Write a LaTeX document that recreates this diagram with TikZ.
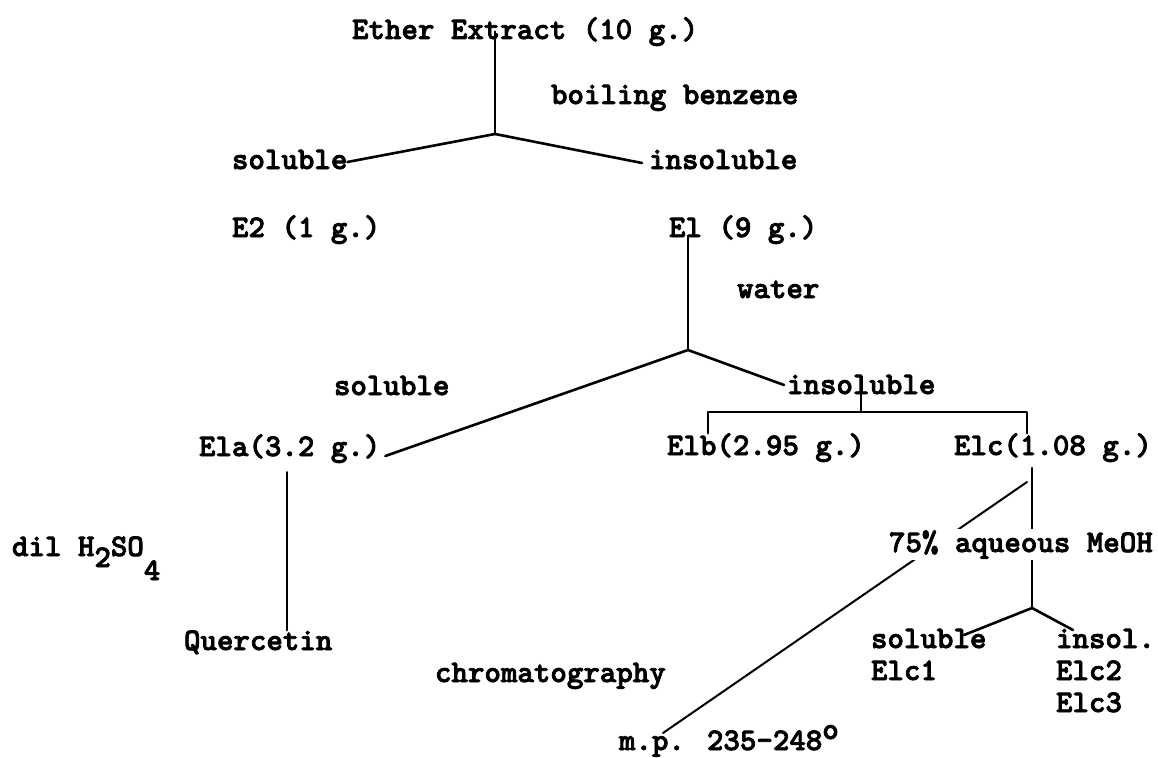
\documentclass[tikz,border=0pt]{standalone}
\usepackage{fontspec}
\newfontfamily\typew{lmmonolt10-bold.otf}[FakeBold=2.5]
\begin{document}
\begin{tikzpicture}[x=1pt,y=-1pt,
  txt/.style={anchor=base west, inner sep=0pt, outer sep=0pt, font=\typew\fontsize{31.4}{36}\selectfont},
  ln/.style={line width=2.6pt, line cap=round, line join=round},
  thinln/.style={line width=2pt, line cap=round}]
\path[use as bounding box] (0,0) rectangle (1158,757);
% texts
\node[txt] (ether) at (352,39) {Ether Extract (10 g.)};
\node[txt] (boil) at (551,104) {boiling benzene};
\node[txt] (sol1) at (232,169) {soluble};
\node[txt] (ins1) at (649,169) {insoluble};
\node[txt] (e2) at (232,237) {E2 (1 g.)};
\node[txt] (e1) at (669,237) {El (9 g.)};
\node[txt] (water) at (737,298) {water};
\node[txt] (sol2) at (334,395) {soluble};
\node[txt] (ins2) at (787,394) {insoluble};
\node[txt] (e1a) at (199,456) {Ela(3.2 g.)};
\node[txt] (e1b) at (667,455) {Elb(2.95 g.)};
\node[txt] (e1c) at (954,455) {Elc(1.08 g.)};
\node[txt] (dil) at (12,556) {dil H\raisebox{-11pt}{2}SO\raisebox{-24pt}{4}};
\node[txt] (quer) at (184,650) {Quercetin};
\node[txt] (sol3) at (871,648) {soluble};
\node[txt] (e1c1) at (871,680) {Elc1};
\node[txt] (ins3) at (1056,648) {insol.};
\node[txt] (e1c2) at (1056,680) {Elc2};
\node[txt] (e1c3) at (1056,712) {Elc3};
\node[txt] (chrom) at (435,682) {chromatography};
\node[txt] (mp) at (619,750) {m.p. 235-248\raisebox{11pt}{o}};
% branch points
\coordinate (b1) at (495,134);
\coordinate (b2) at (688,350);
\coordinate (bl) at (708,412);
\coordinate (br) at (1027,412);
\coordinate (b3) at (1032,608);
\coordinate (qx) at (287,0);
\coordinate (dt) at (1027,482);
% connectors
\draw[ln] (ether.center -| b1) -- (b1);
\draw[ln] (b1) -- ([yshift=7pt]sol1.base east);
\draw[ln] (b1) -- ([xshift=-7pt,yshift=6pt]ins1.base west);
\draw[ln] (e1.base -| b2) -- (b2);
\draw[ln] (b2) -- ([xshift=5pt]e1a.base east);
\draw[ln] (b2) -- ([xshift=-3pt,yshift=9pt]ins2.base west);
\draw[ln] (ins2.base) -- (ins2.base |- bl);
\draw[ln] (e1b.north -| bl) -- (bl) -- (br) -- (e1c.north -| br);
\draw[thinln, shorten <=9pt] (qx |- e1a.south) -- (qx |- quer.north);
\draw[ln, shorten <=6pt] (b3 |- e1c.south) -- (b3);
\draw[ln] (b3) -- ([xshift=93pt,yshift=13pt]sol3.base west);
\draw[ln] (b3) -- ([xshift=17pt,yshift=18pt]ins3.base west);
\draw[thinln] (dt) -- ([xshift=44pt,yshift=17pt]mp.base west);
% label laid over the two lines
\node[txt, fill=white, inner sep=1pt] (aq) at (888,552) {75\% aqueous MeOH};
\end{tikzpicture}
\end{document}
